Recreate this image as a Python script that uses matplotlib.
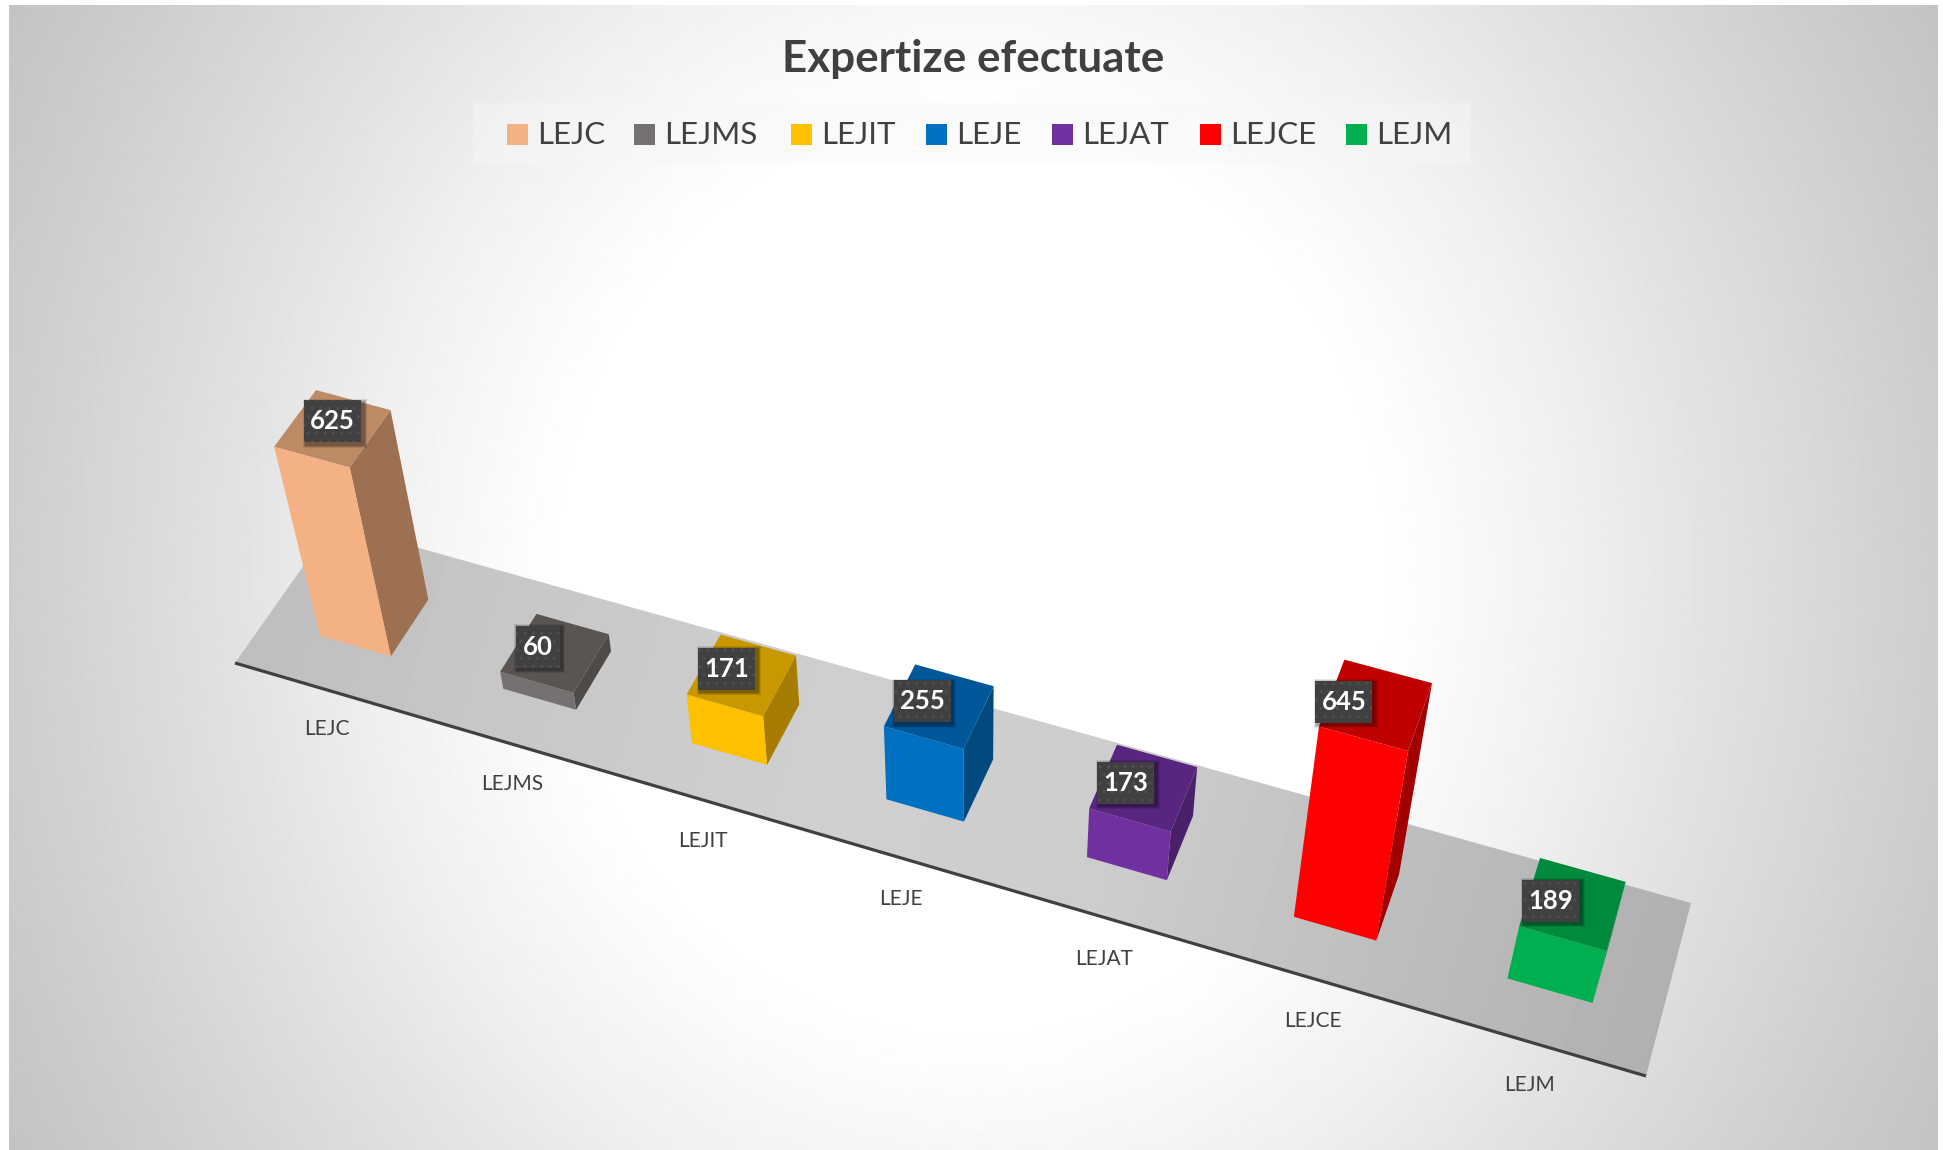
import numpy as np
import matplotlib
matplotlib.use("Agg")
import matplotlib.pyplot as plt
from matplotlib.patches import Polygon, Rectangle

plt.rcParams['font.family'] = ['Lato', 'DejaVu Sans']
plt.rcParams['hatch.linewidth'] = 1.2

# data
categories = ['LEJC', 'LEJMS', 'LEJIT', 'LEJE', 'LEJAT', 'LEJCE', 'LEJM']
values = [625, 60, 171, 255, 173, 645, 189]
front_colors = ['#F4B183', '#767171', '#FFC000', '#0070C0', '#7030A0', '#FF0000', '#00B050']
top_colors = ['#BD8A66', '#5A5553', '#C99700', '#00589A', '#582680', '#C00000', '#008A3E']
side_colors = ['#9C7050', '#4E4A48', '#A67D00', '#004A80', '#4A2069', '#A00000', '#00773A']

# layout, all in pixels of the final picture
W, H = 1943, 1150
floor_corners = [(235, 663), (1646, 1076), (1691, 903), (333, 524)]
vanish = (975, 3335)   # the bars lean towards this point
height_scale = -1.09e-4
bar_u = 0.39
bar_v = (0.30, 0.70)
legend_swatch_x = [507, 634, 791, 926, 1052, 1200, 1346]
label_offsets = [(0, -7), (-17, -6), (-15, -6), (-17, -5), (-18, -5), (-32, -3), (-22, -3)]


def floor_matrix():
    # homography from the unit floor (u 0-7, v 0-1) to the picture
    src = [(0, 0), (7, 0), (7, 1), (0, 1)]
    A, b = [], []
    for (u, v), (x, y) in zip(src, floor_corners):
        A.append([u, v, 1, 0, 0, 0, -u * x, -v * x])
        A.append([0, 0, 0, u, v, 1, -u * y, -v * y])
        b += [x, y]
    m = np.append(np.linalg.solve(np.array(A, float), np.array(b, float)), 1.0).reshape(3, 3)
    return m / (m @ np.array([3.5, 0.5, 1.0]))[2]


M = floor_matrix()


def project(u, v, h=0):
    p = M @ np.array([u, v, 1.0]) + height_scale * h * np.array([vanish[0], vanish[1], 1.0])
    return p[0] / p[2], p[1] / p[2]


fig = plt.figure(figsize=(W / 100, H / 100), dpi=100)
ax = fig.add_axes([0, 0, 1, 1])

# background, white in the middle going grey at the corners
yy, xx = np.mgrid[5:H:2, 9:1938:2]
r = np.hypot(xx - 972, (yy - 575) * 0.9)
bg = np.interp(r, [0, 400, 452, 600, 742, 962, 1085], [255, 255, 252, 240, 226, 206, 196]) / 255
ax.imshow(bg, extent=[9, 1938, H, 5], cmap='gray', vmin=0, vmax=1, aspect='auto', zorder=0)

# floor
floor = Polygon(floor_corners, closed=True, fc='none', ec='none', zorder=1)
ax.add_patch(floor)
fy, fx = np.mgrid[500:1100:4, 220:1700:4]
s = ((fx - 235) * 0.96 + (fy - 663) * 0.28) / 1470
shade = np.interp(s, [0, 0.15, 0.4, 0.6, 0.8, 1.0], [190, 198, 207, 205, 190, 176]) / 255
im = ax.imshow(shade, extent=[220, 1700, 1100, 500], cmap='gray', vmin=0, vmax=1, aspect='auto', zorder=1)
im.set_clip_path(floor)
ax.plot([floor_corners[0][0], floor_corners[1][0]], [floor_corners[0][1], floor_corners[1][1]],
        color='#404040', lw=2.3, zorder=2, solid_capstyle='butt')

# bars
for i, val in enumerate(values):
    u0, u1 = i + 0.5 - bar_u / 2, i + 0.5 + bar_u / 2
    v0, v1 = bar_v
    side = [project(u1, v0), project(u1, v1), project(u1, v1, val), project(u1, v0, val)]
    front = [project(u0, v0), project(u1, v0), project(u1, v0, val), project(u0, v0, val)]
    top = [project(u0, v0, val), project(u1, v0, val), project(u1, v1, val), project(u0, v1, val)]
    ax.add_patch(Polygon(side, fc=side_colors[i], ec='none', zorder=3 + i * 0.1))
    ax.add_patch(Polygon(front, fc=front_colors[i], ec='none', zorder=3 + i * 0.1))
    ax.add_patch(Polygon(top, fc=top_colors[i], ec='none', zorder=3 + i * 0.1))

    # data label with its dark box
    cx, cy = project(i + 0.5, 0.5, val)
    cx += label_offsets[i][0]
    cy += label_offsets[i][1]
    bw = 44 if val < 100 else 57
    for k, a in zip([7, 5, 3], [0.10, 0.14, 0.18]):
        ax.add_patch(Rectangle((cx - bw / 2 + 2 - k / 2, cy - 21 + 2 - k / 2), bw + k, 42 + k,
                               fc='black', ec='none', alpha=a, zorder=6))
    ax.add_patch(Rectangle((cx - bw / 2, cy - 21), bw, 42, fc='#404040', ec='#4e4e4e', lw=0,
                           hatch='..', zorder=7))
    ax.text(cx, cy, str(val), color='white', fontsize=18.5, fontweight='bold',
            ha='center', va='center', zorder=8)

    # category under the front edge
    lx, ly = project(i + 0.5 + 0.11 - 0.015 * i, -0.22)
    ax.text(lx + 2.5, ly + 1, categories[i], color='#404040', fontsize=15, ha='center', va='center', zorder=4)

# title and legend
ax.text(973, 59, 'Expertize efectuate', color='#404040', fontsize=31.7, fontweight='bold',
        ha='center', va='center', zorder=5)
ax.add_patch(Rectangle((473, 103), 998, 61, fc='#f7f7f7', ec='none', alpha=0.45, zorder=4))
for name, col, x in zip(categories, front_colors, legend_swatch_x):
    ax.add_patch(Rectangle((x, 124), 21, 21, fc=col, ec='none', zorder=5))
    ax.text(x + 30, 135.5, name, color='#404040', fontsize=22.5, ha='left', va='center', zorder=5)

ax.set_xlim(0, W)
ax.set_ylim(H, 0)
ax.axis('off')
fig.savefig('out.png', dpi=100, facecolor='white')
